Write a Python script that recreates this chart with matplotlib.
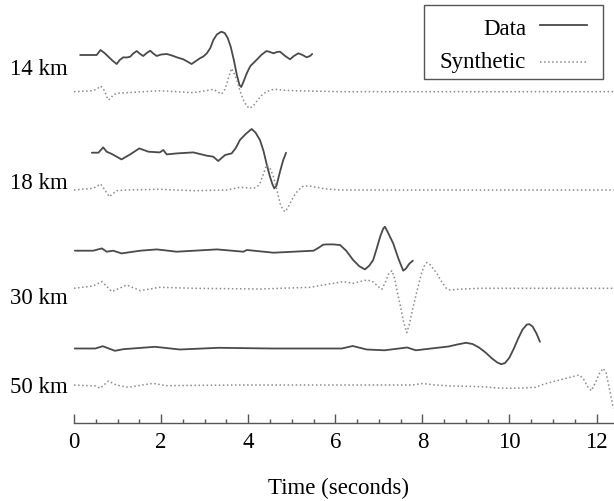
import matplotlib.pyplot as plt
from matplotlib.ticker import MultipleLocator
from matplotlib.patches import Rectangle
from matplotlib.lines import Line2D

plt.rcParams['font.family'] = ['Liberation Serif', 'DejaVu Serif']

# ---- traces: time (s) and amplitude (arbitrary, up positive) ----
# 14 km
t_d14 = [0.14, 0.52, 0.61, 0.70, 0.79, 0.88, 0.98, 1.05, 1.13, 1.21, 1.29, 1.36, 1.44, 1.52,
         1.59, 1.67, 1.75, 1.82, 1.90, 2.00, 2.13, 2.25, 2.36, 2.51, 2.60, 2.70, 2.80, 2.89,
         2.97, 3.05, 3.13, 3.20, 3.28, 3.38, 3.46, 3.53, 3.60, 3.67, 3.74, 3.80, 3.84, 3.89,
         3.97, 4.05, 4.19, 4.30, 4.42, 4.50, 4.58, 4.66, 4.73, 4.85, 4.96, 5.05, 5.15, 5.25,
         5.34, 5.42, 5.47]
a_d14 = [0, 0, 5, 2, -1.7, -5.5, -9, -5, -2.3, -2.5, -1.7, 1.5, 4, 1,
         -1, 2, 4.3, 1.5, -1, 0.5, 1, -0.5, -2.3, -4.3, -6.5, -9, -6, -3.3,
         -1.5, 1.7, 7, 15, 20.5, 23.3, 22, 17, 8, -5, -20, -30, -32, -27,
         -18, -11, -5, 0, 4, 3, 1.7, 3, 3.3, -1, -4.3, -1, 1.7, 0,
         -2.3, -1, 1]
t_s14 = [0.0, 0.44, 0.55, 0.61, 0.67, 0.71, 0.75, 0.79, 0.84, 0.90, 1.00, 1.21, 1.97, 2.74,
         3.20, 3.39, 3.46, 3.51, 3.57, 3.62, 3.67, 3.74, 3.81, 3.89, 3.96, 4.03, 4.11, 4.19,
         4.30, 4.42, 4.55, 4.65, 4.80, 5.04, 6.11, 8.0, 10.0, 12.4]
a_s14 = [0, 1, 3.5, 5.7, 3, 0, -5, -8.3, -6.5, -3.3, -1.5, -1, 1, -1,
         2.3, -2.3, 2, 8.3, 17, 23.3, 19, 11.7, 1, -8.3, -14, -16.7, -14.5, -10,
         -4, 0, 2, 2.3, 1.5, 1, 0, 0, 0, 0]

# 18 km
t_d18 = [0.41, 0.56, 0.67, 0.75, 0.87, 1.09, 1.29, 1.50, 1.71, 1.97, 2.05, 2.13, 2.36, 2.74,
         3.05, 3.20, 3.31, 3.47, 3.62, 3.72, 3.81, 3.95, 4.08, 4.17, 4.27, 4.35, 4.42, 4.50,
         4.56, 4.60, 4.65, 4.73, 4.80, 4.87]
a_d18 = [0, 0, 5.3, 1, -1.3, -6.7, -1.7, 4.3, 1, 0.3, 2.7, -1.7, -0.7, 0.3,
         -3, -4, -8.3, -2.3, -0.7, 5, 12.7, 19, 23.7, 20, 12.7, 2, -10.7, -24,
         -32, -35.7, -33, -19, -8, 0]
t_s18 = [0.0, 0.44, 0.61, 0.71, 0.81, 0.98, 1.21, 1.97, 2.74, 3.51, 3.81, 4.12, 4.20, 4.27,
         4.35, 4.42, 4.50, 4.58, 4.66, 4.73, 4.80, 4.85, 4.92, 5.04, 5.15, 5.27, 5.40, 5.57,
         5.80, 6.11, 8.0, 10.0, 12.4]
a_s18 = [0, 1.7, 6, 0, -6.7, -0.7, 0, 0.7, -0.7, 0, 2.7, 1.7, 3, 6.7,
         16, 25, 22, 13.3, 0, -13.3, -20, -21.7, -17, -6.7, 0, 4, 4, 2.7,
         1, 0, 0, 0, 0]

# 30 km
t_d30 = [0.02, 0.44, 0.64, 0.75, 0.90, 1.09, 1.52, 1.90, 2.36, 3.28, 3.89, 3.97, 4.58, 5.50,
         5.62, 5.72, 5.80, 5.95, 6.11, 6.25, 6.41, 6.55, 6.68, 6.78, 6.87, 6.95, 7.03, 7.10,
         7.14, 7.20, 7.33, 7.45, 7.56, 7.62, 7.70, 7.78]
a_d30 = [0, 0, 2.3, -1, 0, -2.7, 0, 1.3, -1, 1.3, -1, 0.7, -2, 0,
         3, 6, 6.3, 6.3, 5.7, 0, -9.3, -15.5, -18.7, -15, -9.3, 2, 14, 22,
         24, 19, 7.3, -8, -20, -18, -13, -10]
t_s30 = [0.0, 0.44, 0.64, 0.87, 1.21, 1.52, 1.97, 2.74, 4.27, 5.42, 6.18, 6.41, 6.72, 6.85,
         6.98, 7.07, 7.15, 7.22, 7.30, 7.36, 7.42, 7.49, 7.56, 7.64, 7.70, 7.78, 7.88, 7.98,
         8.05, 8.10, 8.18, 8.33, 8.45, 8.55, 8.63, 8.80, 9.32, 11.0, 12.4]
a_s30 = [0, 2.3, 6.7, -3.3, 3.3, -2.3, 1, 0, -0.7, 1, 6.7, 5, 8.3, 7,
         2, -1, 6, 14, 17.7, 10, -3, -16.7, -32, -44.3, -36, -20, -2, 15,
         23, 25.7, 23.5, 15, 6, 0, -1.7, -1, 0, 0, 0]

# 50 km
t_d50 = [0.0, 0.49, 0.66, 0.94, 1.13, 1.86, 2.43, 3.32, 4.53, 6.15, 6.40, 6.72, 7.13, 7.65,
         7.85, 8.30, 8.60, 8.80, 9.00, 9.15, 9.30, 9.45, 9.60, 9.72, 9.81, 9.90, 10.00, 10.10,
         10.20, 10.30, 10.40, 10.46, 10.53, 10.62, 10.70]
a_d50 = [0, 0, 2.3, -2.3, -0.7, 1.7, -1, 0.7, 0, 0, 2.5, -1, -1.8, 1,
         -1.8, 0.5, 2, 4, 5.7, 4.5, 1, -4, -10, -14, -15.7, -14.5, -9, 0,
         10, 19, 24, 24.3, 22, 15, 6.7]
t_s50 = [0.0, 0.49, 0.60, 0.79, 0.97, 1.25, 1.82, 2.11, 3.72, 7.77, 8.00, 8.30, 8.70, 9.20,
         9.50, 9.70, 10.00, 10.30, 10.60, 10.80, 11.00, 11.30, 11.60, 11.70, 11.80, 11.88, 11.97,
         12.07, 12.15, 12.22, 12.30, 12.37, 12.40]
a_s50 = [0, -1, -3.3, 4, 0, -2.3, 1.7, -0.7, 0, 0, 1.5, 0, -1, -1.5,
         -2, -3, -3.3, -3, -2.3, 1, 3.3, 6.7, 10, 6, -2, -5.7, 2,
         12, 16.7, 12, -5, -20, -23.3]

labels = ['14 km', '18 km', '30 km', '50 km']
data_traces = [(t_d14, a_d14), (t_d18, a_d18), (t_d30, a_d30), (t_d50, a_d50)]
syn_traces = [(t_s14, a_s14), (t_s18, a_s18), (t_s30, a_s30), (t_s50, a_s50)]

# layout: baselines of each trace (same units as amplitude, measured up from the time axis)
data_base = [367.7, 270.0, 172.0, 74.2]
syn_base = [331.0, 232.7, 134.4, 37.7]
label_y = [75, 189, 304, 393]   # label baselines in figure pixels from top

W, H = 614, 501
fig = plt.figure(figsize=(W / 100, H / 100), dpi=100)
ax = fig.add_axes([74 / W, 78.3 / H, 540 / W, 422.7 / H])

c_data = '#4a4a4a'
c_syn = '#8c8c8c'
for (t, a), b in zip(data_traces, data_base):
    ax.plot(t, [b + v for v in a], '-', color=c_data, linewidth=1.3,
            solid_joinstyle='round', solid_capstyle='round')
for (t, a), b in zip(syn_traces, syn_base):
    ax.plot(t, [b + v for v in a], ':', color=c_syn, linewidth=1.1)

ax.set_xlim(0, 12.4)
ax.set_ylim(0, 422.7)
for s in ['left', 'right', 'top']:
    ax.spines[s].set_visible(False)
ax.spines['bottom'].set_color('#555555')
ax.spines['bottom'].set_linewidth(1.0)
ax.yaxis.set_visible(False)
ax.xaxis.set_major_locator(MultipleLocator(2))
ax.xaxis.set_minor_locator(MultipleLocator(0.5))
ax.tick_params(axis='x', which='major', direction='in', length=6.5, width=1, color='#555555',
               labelsize=16.5, pad=6.5)
ax.tick_params(axis='x', which='minor', direction='in', length=3, width=1, color='#555555')
ax.patch.set_visible(False)

fs = 16.5
for lab, yb in zip(labels, label_y):
    fig.text(10 / W, 1 - yb / H, lab, fontsize=fs, ha='left', va='baseline')

fig.text(339 / W, 1 - 494 / H, 'Time (seconds)', fontsize=fs, ha='center', va='baseline')

# legend box drawn by hand (text right aligned, line sample on the right)
fig.patches.append(Rectangle((424 / W, 1 - 79 / H), 178.7 / W, 74 / H, transform=fig.transFigure,
                             fill=False, edgecolor='#555555', linewidth=1.0))
fig.text(526 / W, 1 - 35 / H, 'Data', fontsize=fs, ha='right', va='baseline')
fig.text(526 / W, 1 - 68 / H, 'Synthetic', fontsize=fs, ha='right', va='baseline')
fig.lines.append(Line2D([540 / W, 587 / W], [1 - 25 / H, 1 - 25 / H], transform=fig.transFigure,
                        color=c_data, linewidth=1.3))
fig.lines.append(Line2D([540 / W, 587 / W], [1 - 61.5 / H, 1 - 61.5 / H], transform=fig.transFigure,
                        color=c_syn, linewidth=1.1, linestyle=':'))

plt.savefig('out.png', dpi=100)
